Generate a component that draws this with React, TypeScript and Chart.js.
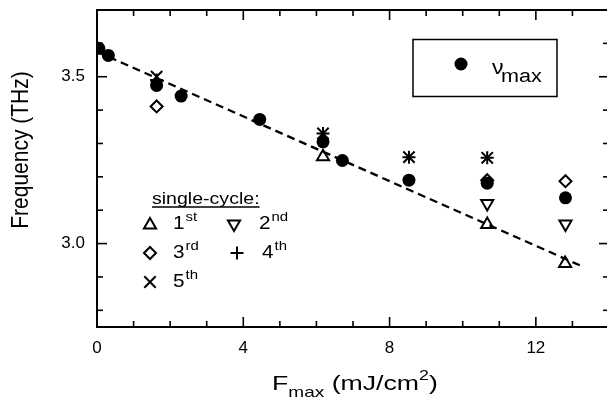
import React, { useEffect, useRef } from "react";
import { Chart, registerables } from "chart.js";

Chart.register(...registerables);

// nu_max (filled circles)
const vmaxX = [0.05, 0.31, 1.63, 2.3, 4.45, 6.18, 6.71, 8.53, 10.67, 12.81];
const vmaxY = [3.585, 3.564, 3.474, 3.442, 3.372, 3.305, 3.249, 3.19, 3.181, 3.137];
// single-cycle 1st (up triangles)
const c1X = [6.18, 10.67, 12.8];
const c1Y = [3.26, 3.057, 2.94];
// 2nd (down triangles)
const c2X = [10.67, 12.81];
const c2Y = [3.12, 3.059];
// 3rd (diamonds)
const c3X = [1.63, 10.67, 12.81];
const c3Y = [3.411, 3.19, 3.187];
// 4th (+)
const c4X = [1.63, 6.18, 8.53, 10.67];
const c4Y = [3.49, 3.33, 3.259, 3.257];
// 5th (x)
const c5X = [1.63, 6.18, 8.53, 10.67];
const c5Y = [3.5, 3.33, 3.259, 3.257];
// dashed linear fit
const fitX = [0, 13.2];
const fitY = [3.575, 2.935];

const xMajorLabels = ["0", "4", "8", "12"];
const yMajorLabels = ["3.0", "3.5"];

const FONT = '"Liberation Sans", Arial, Helvetica, sans-serif';

const pts = (xs: number[], ys: number[]) => xs.map((x, i) => ({ x, y: ys[i] }));

function txt(
  ctx: CanvasRenderingContext2D,
  s: string,
  x: number,
  y: number,
  size: number,
  sx = 1.2
): number {
  ctx.save();
  ctx.font = `${size}px ${FONT}`;
  ctx.fillStyle = "#000";
  ctx.textAlign = "left";
  ctx.textBaseline = "alphabetic";
  const w = ctx.measureText(s).width * sx;
  ctx.translate(x, y);
  ctx.scale(sx, 1);
  ctx.fillText(s, 0, 0);
  ctx.restore();
  return w;
}

function line(ctx: CanvasRenderingContext2D, x1: number, y1: number, x2: number, y2: number) {
  ctx.beginPath();
  ctx.moveTo(x1, y1);
  ctx.lineTo(x2, y2);
  ctx.stroke();
}

function marker(ctx: CanvasRenderingContext2D, kind: string, x: number, y: number) {
  ctx.save();
  ctx.strokeStyle = "#000";
  ctx.fillStyle = "#000";
  ctx.lineWidth = 2;
  ctx.beginPath();
  if (kind === "up" || kind === "down") {
    const r = 7;
    const s = kind === "up" ? 1 : -1;
    ctx.moveTo(x, y - s * r);
    ctx.lineTo(x + r * 0.866, y + s * r * 0.5);
    ctx.lineTo(x - r * 0.866, y + s * r * 0.5);
    ctx.closePath();
    ctx.stroke();
  } else if (kind === "diamond") {
    const r = 6;
    ctx.moveTo(x - r, y);
    ctx.lineTo(x, y - r);
    ctx.lineTo(x + r, y);
    ctx.lineTo(x, y + r);
    ctx.closePath();
    ctx.stroke();
  } else if (kind === "plus") {
    const r = 6.5;
    line(ctx, x - r, y, x + r, y);
    line(ctx, x, y - r, x, y + r);
  } else if (kind === "cross") {
    const r = 5.7;
    line(ctx, x - r, y - r, x + r, y + r);
    line(ctx, x - r, y + r, x + r, y - r);
  } else if (kind === "circle") {
    ctx.arc(x, y, 6.5, 0, Math.PI * 2);
    ctx.fill();
  }
  ctx.restore();
}

const framePlugin = {
  id: "frame",
  afterDraw(chart: any) {
    const { ctx, chartArea: a, scales } = chart;
    ctx.save();
    ctx.strokeStyle = "#000";
    ctx.lineWidth = 2;
    ctx.strokeRect(a.left, a.top, a.right - a.left, a.bottom - a.top);
    ctx.lineWidth = 1.6;
    for (let v = 0; v <= 14; v++) {
      const px = scales.x.getPixelForValue(v);
      const L = v % 4 === 0 ? 10 : 6;
      line(ctx, px, a.bottom, px, a.bottom - L);
      line(ctx, px, a.top, px, a.top + L);
    }
    for (let k = 28; k <= 37; k++) {
      const py = scales.y.getPixelForValue(k / 10);
      const L = k % 5 === 0 ? 10 : 6;
      line(ctx, a.left, py, a.left + L, py);
      line(ctx, a.right, py, a.right - L, py);
    }
    ctx.restore();
  },
};

const annotPlugin = {
  id: "annot",
  afterDraw(chart: any) {
    const { ctx } = chart;
    // x title
    let x = 272;
    x += txt(ctx, "F", x, 390, 21, 1.27);
    x += txt(ctx, "max", x, 397, 15, 1.27);
    x += txt(ctx, " (mJ/cm", x, 390, 21, 1.27);
    x += txt(ctx, "2", x, 380, 14, 1.27);
    txt(ctx, ")", x, 390, 21, 1.27);

    // y title
    ctx.save();
    ctx.translate(28, 150);
    ctx.rotate(-Math.PI / 2);
    ctx.font = `21px ${FONT}`;
    ctx.fillStyle = "#000";
    ctx.textAlign = "center";
    ctx.textBaseline = "alphabetic";
    ctx.scale(1, 1.12);
    ctx.fillText("Frequency (THz)", 0, 0);
    ctx.restore();

    // nu_max legend box
    ctx.save();
    ctx.strokeStyle = "#000";
    ctx.lineWidth = 1.5;
    ctx.strokeRect(413, 39.5, 144, 57);
    ctx.restore();
    marker(ctx, "circle", 461, 64);
    txt(ctx, "\u03bd", 492, 74, 21, 1.1);
    txt(ctx, "max", 501, 82, 18, 1.2);

    // single-cycle legend
    const w = txt(ctx, "single-cycle:", 152, 204, 17, 1.15);
    ctx.save();
    ctx.strokeStyle = "#000";
    ctx.lineWidth = 1.3;
    line(ctx, 152, 207, 152 + w, 207);
    ctx.restore();

    const entry = (kind: string, mx: number, my: number, num: string, sup: string, tx: number, by: number) => {
      marker(ctx, kind, mx, my);
      const nw = txt(ctx, num, tx, by, 18, 1.15);
      txt(ctx, sup, tx + nw + 1, by - 8, 13, 1.15);
    };
    entry("up", 150, 225, "1", "st", 173, 229);
    entry("down", 234, 224, "2", "nd", 259, 229);
    entry("diamond", 150, 253, "3", "rd", 173, 258);
    entry("plus", 237, 253, "4", "th", 262, 258);
    entry("cross", 150, 282, "5", "th", 173, 287);
  },
};

export default function App() {
  const ref = useRef<HTMLCanvasElement>(null);
  useEffect(() => {
    const canvas = ref.current!;
    const chart = new Chart(canvas, {
      type: "scatter",
      data: {
        datasets: [
          {
            label: "nu_max",
            data: pts(vmaxX, vmaxY),
            pointStyle: "circle",
            pointRadius: 6.5,
            backgroundColor: "#000",
            borderColor: "#000",
            borderWidth: 0,
          },
          {
            label: "4th",
            data: pts(c4X, c4Y),
            pointStyle: "cross",
            pointRadius: 6.5,
            borderColor: "#000",
            borderWidth: 2,
          },
          {
            label: "5th",
            data: pts(c5X, c5Y),
            pointStyle: "crossRot",
            pointRadius: 8,
            borderColor: "#000",
            borderWidth: 2,
          },
          {
            label: "3rd",
            data: pts(c3X, c3Y),
            pointStyle: "rectRot",
            pointRadius: 6,
            backgroundColor: "rgba(0,0,0,0)",
            borderColor: "#000",
            borderWidth: 2,
          },
          {
            label: "2nd",
            data: pts(c2X, c2Y),
            pointStyle: "triangle",
            rotation: 180,
            pointRadius: 7,
            backgroundColor: "rgba(0,0,0,0)",
            borderColor: "#000",
            borderWidth: 2,
          },
          {
            label: "1st",
            data: pts(c1X, c1Y),
            pointStyle: "triangle",
            pointRadius: 7,
            backgroundColor: "rgba(0,0,0,0)",
            borderColor: "#000",
            borderWidth: 2,
          },
          {
            label: "fit",
            data: pts(fitX, fitY),
            showLine: true,
            pointRadius: 0,
            borderColor: "#000",
            borderWidth: 2.3,
            borderDash: [8, 5],
            fill: false,
          },
        ],
      } as any,
      options: {
        animation: false,
        responsive: false,
        devicePixelRatio: 1,
        events: [],
        layout: { padding: { top: 9.5, right: 11, left: 0, bottom: 0 } },
        plugins: { legend: { display: false }, tooltip: { enabled: false } },
        scales: {
          x: {
            type: "linear",
            position: "bottom",
            min: 0,
            max: 14,
            grid: { display: false, drawTicks: false },
            border: { display: false },
            ticks: {
              stepSize: 1,
              autoSkip: false,
              maxRotation: 0,
              padding: 11,
              color: "#000",
              font: { family: FONT, size: 17 },
              callback: (v: any) => {
                const s = String(Math.round(Number(v)));
                return Number(v) % 4 === 0 && xMajorLabels.includes(s) ? s : "";
              },
            },
            afterFit: (s: any) => {
              s.height = 71;
              s.paddingLeft = 0;
              s.paddingRight = 0;
            },
          },
          y: {
            type: "linear",
            position: "left",
            min: 2.75,
            max: 3.7,
            grid: { display: false, drawTicks: false },
            border: { display: false },
            ticks: {
              stepSize: 0.1,
              autoSkip: false,
              padding: 12,
              color: "#000",
              font: { family: FONT, size: 17 },
              callback: (v: any) => {
                const s = Number(v).toFixed(1);
                return Math.abs(Number(v) * 2 - Math.round(Number(v) * 2)) < 1e-6 && yMajorLabels.includes(s) ? s : "";
              },
            },
            afterFit: (s: any) => {
              s.width = 97;
              s.paddingTop = 0;
              s.paddingBottom = 0;
            },
          },
        },
      } as any,
      plugins: [framePlugin, annotPlugin],
    });
    return () => chart.destroy();
  }, []);
  return (
    <div
      style={{
        position: "fixed",
        left: 0,
        top: 0,
        width: 607,
        height: 398,
        overflow: "hidden",
        background: "#fff",
      }}
    >
      <canvas ref={ref} width={620} height={398} style={{ display: "block", width: 620, height: 398 }} />
    </div>
  );
}
